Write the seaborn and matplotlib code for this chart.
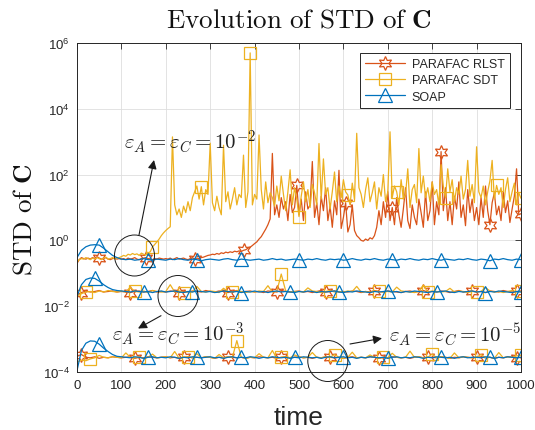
import numpy as np
import pandas as pd
import seaborn as sns
import matplotlib
matplotlib.use("Agg")
import matplotlib.pyplot as plt
from matplotlib.lines import Line2D
from matplotlib.patches import Ellipse
from matplotlib.ticker import NullLocator, FixedLocator

# ---------------- data ----------------
series_names = ["PARAFAC RLST", "PARAFAC SDT", "SOAP"]
x_ticks = [0, 100, 200, 300, 400, 500, 600, 700, 800, 900, 1000]
y_ticks = [1e-4, 1e-2, 1e0, 1e2, 1e4, 1e6]

t5 = np.arange(0, 1001, 5)     # time samples for the eps=1e-2 RLST / SDT curves
t10 = np.arange(0, 1001, 10)   # time samples for the other curves

# eps = 1e-2
rlst_2 = [0.2, 0.26, 0.3, 0.28, 0.27, 0.29, 0.27, 0.3, 0.28, 0.32, 0.29, 0.27, 0.28, 0.3, 0.27, 0.26, 0.28, 0.29, 0.27, 0.28,
          0.27, 0.28, 0.26, 0.29, 0.27, 0.28, 0.3, 0.27, 0.26, 0.28, 0.29, 0.3, 0.28, 0.27, 0.26, 0.28, 0.27, 0.29, 0.28, 0.27,
          0.28, 0.27, 0.29, 0.26, 0.28, 0.3, 0.27, 0.28, 0.29, 0.27, 0.26, 0.28, 0.3, 0.27, 0.29, 0.28, 0.3, 0.31, 0.33, 0.35,
          0.36, 0.38, 0.37, 0.4, 0.38, 0.42, 0.4, 0.44, 0.42, 0.45, 0.43, 0.47, 0.45, 0.48, 0.46, 0.5, 0.52, 0.58, 0.62, 0.7,
          0.8, 0.9, 1.1, 1.3, 1.7, 2.2, 3, 4.5, 440, 6, 12, 5, 20, 9, 15, 4, 25, 7, 10, 47,
          6, 18, 4, 30, 9, 12, 250, 5, 14, 3, 22, 8, 40, 4, 11, 2.5, 16, 6, 135, 2.3,
          5, 14, 1.8, 3, 12, 2, 1.4, 1.2, 1.0, 0.95, 1.1, 1.0, 1.2, 1.1, 1.4, 2.5, 8, 3, 15, 5,
          30, 4, 10, 3, 20, 6, 2.5, 9, 40, 4, 2.3, 12, 5, 3, 18, 7, 2.5, 30, 4, 8,
          60, 3, 15, 6, 500, 8, 40, 4, 15, 3, 22, 9, 60, 5, 12, 2.8, 35, 7, 18, 4,
          10, 3, 20, 5, 45, 8, 3, 14, 28, 6, 11, 4, 30, 7, 16, 3.5, 9, 22, 150, 6, 6.5]
sdt_2 = [0.22, 0.26, 0.28, 0.27, 0.3, 0.28, 0.26, 0.29, 0.27, 0.3, 0.28, 0.26, 0.29, 0.31, 0.27, 0.28, 0.3, 0.27, 0.29, 0.3,
         0.32, 0.35, 0.33, 0.38, 0.36, 0.4, 0.37, 0.39, 0.35, 0.41, 0.38, 0.36, 0.42, 0.45, 0.63, 0.75, 0.9, 1.1, 1.4, 1.7,
         2.0, 2.3, 2.6, 1400, 12, 6, 9, 5, 11, 7, 15, 8, 20, 30, 45, 18, 43, 12, 35, 25,
         900, 14, 8, 22, 10, 6, 780, 15, 30, 9, 18, 40, 12, 25, 20, 390, 10, 30, 5e5, 12,
         25, 18, 1600, 35, 9, 60, 14, 28, 20, 11, 45, 16, 90, 25, 8, 30, 140, 12, 40, 18,
         5.3, 22, 60, 15, 35, 10, 50, 28, 12, 880, 18, 300, 25, 40, 9, 30, 120, 15, 45, 20,
         70, 30, 24, 12, 55, 18, 1800, 40, 25, 10, 35, 80, 15, 28, 60, 9, 40, 22, 100, 15,
         30, 2000, 20, 45, 30, 12, 70, 18, 25, 150, 10, 35, 50, 14, 620, 28, 90, 20, 40, 15,
         60, 25, 35, 12, 200, 45, 20, 150, 30, 70, 15, 40, 25, 90, 18, 35, 270, 22, 50, 14,
         700, 30, 20, 45, 12, 30, 65, 270, 18, 47, 25, 40, 10, 35, 80, 15, 30, 55, 12, 28, 19]
soap_2 = [0.3, 0.5, 0.64, 0.72, 0.74, 0.72, 0.58, 0.45, 0.35, 0.3,
          0.27, 0.26, 0.27, 0.25, 0.26, 0.28, 0.26, 0.25, 0.27, 0.26,
          0.25, 0.27, 0.26, 0.28, 0.26, 0.25, 0.27, 0.26, 0.24, 0.26,
          0.27, 0.26, 0.25, 0.27, 0.28, 0.26, 0.25, 0.27, 0.26, 0.25,
          0.26, 0.27, 0.25, 0.26, 0.28, 0.26, 0.27, 0.25, 0.26, 0.27,
          0.26, 0.25, 0.27, 0.26, 0.28, 0.26, 0.25, 0.27, 0.26, 0.27,
          0.25, 0.26, 0.28, 0.26, 0.25, 0.27, 0.26, 0.28, 0.26, 0.25,
          0.27, 0.26, 0.25, 0.27, 0.26, 0.28, 0.26, 0.25, 0.27, 0.26,
          0.28, 0.26, 0.25, 0.27, 0.26, 0.25, 0.27, 0.26, 0.28, 0.26,
          0.25, 0.27, 0.26, 0.24, 0.27, 0.26, 0.28, 0.26, 0.25, 0.27, 0.26]

# eps = 1e-3  (values in units of 1e-3)
rlst_3_e3 = [22, 26, 29, 27, 28, 30, 27, 28, 29, 27,
             28, 27, 26, 28, 29, 27, 28, 30, 27, 28,
             27, 29, 28, 26, 28, 27, 29, 28, 27, 30,
             28, 27, 29, 28, 26, 28, 30, 27, 28, 29,
             27, 28, 26, 29, 28, 27, 30, 28, 27, 28,
             29, 27, 28, 26, 28, 30, 27, 28, 29, 27,
             28, 27, 29, 28, 26, 28, 27, 30, 28, 27,
             29, 28, 27, 26, 28, 29, 27, 28, 30, 27,
             28, 27, 29, 28, 26, 28, 30, 27, 28, 29,
             27, 28, 26, 29, 28, 27, 30, 28, 27, 28, 29]
sdt_3_e3 = [20, 24, 27, 28, 26, 29, 27, 30, 28, 27,
            29, 27, 38, 28, 27, 29, 26, 30, 28, 27,
            28, 45, 27, 29, 26, 28, 27, 40, 28, 27,
            29, 28, 26, 35, 28, 27, 29, 28, 26, 28,
            27, 29, 28, 42, 27, 28, 95, 29, 27, 28,
            28, 27, 36, 29, 28, 26, 28, 30, 27, 28,
            27, 29, 28, 40, 27, 28, 26, 29, 28, 27,
            28, 27, 38, 29, 28, 27, 26, 28, 44, 27,
            29, 28, 27, 28, 35, 27, 29, 28, 26, 28,
            27, 28, 37, 29, 27, 28, 26, 28, 30, 27, 28]
soap_3_e3 = [20, 45, 65, 72, 70, 58, 45, 37, 32, 30,
             29, 28, 27, 29, 28, 27, 28, 26, 28, 29,
             27, 28, 29, 27, 26, 28, 27, 29, 28, 27,
             28, 26, 27, 29, 28, 27, 28, 26, 28, 27,
             29, 27, 28, 26, 28, 29, 27, 28, 27, 26,
             28, 27, 29, 28, 26, 28, 27, 28, 29, 27,
             26, 28, 27, 29, 28, 27, 26, 28, 27, 28,
             29, 27, 28, 26, 28, 27, 29, 28, 27, 26,
             28, 27, 28, 29, 27, 26, 28, 27, 28, 29,
             27, 28, 26, 28, 27, 29, 28, 27, 26, 28, 27]

# eps = 1e-5  (values in units of 1e-4)
rlst_5_e4 = [3.0, 3.4, 2.8, 2.7, 2.9, 2.6, 2.8, 2.7, 2.9, 2.8,
             2.7, 2.8, 2.9, 2.6, 2.8, 2.7, 2.9, 2.8, 2.7, 2.8,
             2.9, 2.7, 2.8, 2.6, 2.8, 2.9, 2.7, 2.8, 2.7, 2.9,
             2.8, 2.6, 2.8, 2.7, 2.9, 2.8, 2.7, 2.8, 2.6, 2.8,
             2.7, 2.9, 2.8, 2.7, 2.8, 2.6, 2.8, 2.9, 2.7, 2.8,
             2.9, 2.7, 2.8, 2.6, 2.8, 2.7, 2.9, 2.8, 2.7, 2.8,
             2.6, 2.8, 2.9, 2.7, 2.8, 2.7, 2.9, 2.8, 2.6, 2.8,
             2.7, 2.9, 2.8, 2.7, 2.8, 2.6, 2.8, 2.9, 2.7, 2.8,
             2.8, 2.7, 2.9, 2.8, 2.6, 2.8, 2.7, 2.9, 2.8, 2.7,
             2.8, 2.9, 2.7, 2.8, 2.6, 2.8, 2.7, 2.9, 2.8, 2.7, 2.8]
sdt_5_e4 = [2.0, 2.3, 2.2, 2.5, 2.7, 3.2, 2.8, 2.7, 2.9, 2.8,
            2.7, 3.8, 2.8, 2.7, 2.9, 2.6, 2.8, 3.5, 2.7, 2.8,
            2.9, 2.7, 4.2, 2.6, 2.8, 2.9, 2.7, 3.6, 2.7, 2.9,
            2.8, 2.6, 3.4, 2.7, 2.9, 2.8, 9.0, 2.8, 2.6, 2.8,
            2.7, 3.6, 2.8, 2.7, 4.5, 2.6, 2.8, 2.9, 2.7, 3.3,
            2.9, 2.7, 2.8, 3.9, 2.8, 2.7, 2.9, 2.8, 3.4, 2.8,
            2.6, 2.8, 4.0, 2.7, 2.8, 2.7, 3.3, 2.8, 2.6, 2.8,
            2.7, 3.7, 2.8, 2.7, 2.8, 4.3, 2.8, 2.9, 2.7, 2.8,
            3.5, 2.7, 2.9, 2.8, 2.6, 3.8, 2.7, 2.9, 2.8, 2.7,
            2.8, 3.4, 2.7, 2.8, 2.6, 3.9, 2.7, 2.9, 2.8, 3.1, 3.2]
soap_5_e4 = [1.1, 4.5, 7.5, 8.8, 8.6, 7.0, 5.3, 4.2, 3.4, 3.0,
             2.9, 2.8, 2.7, 2.9, 2.8, 2.6, 2.8, 2.9, 2.7, 2.8,
             2.7, 2.9, 2.8, 2.6, 2.8, 2.7, 2.9, 2.8, 2.7, 2.8,
             2.9, 2.7, 2.8, 2.6, 2.8, 2.9, 2.7, 2.8, 2.7, 2.9,
             2.8, 2.6, 2.8, 2.7, 2.9, 2.8, 2.7, 2.8, 2.6, 2.8,
             2.7, 2.9, 2.8, 2.7, 2.8, 2.6, 2.8, 2.9, 2.7, 2.8,
             2.9, 2.7, 2.8, 2.6, 2.8, 2.7, 2.9, 2.8, 2.7, 2.8,
             2.6, 2.8, 2.9, 2.7, 2.8, 2.7, 2.9, 2.8, 2.6, 2.8,
             2.7, 2.9, 2.8, 2.7, 2.8, 2.6, 2.8, 2.9, 2.7, 2.8,
             2.8, 2.7, 2.9, 2.8, 2.6, 2.8, 2.7, 2.9, 2.8, 2.7, 2.8]

# times where the markers sit
mk_rlst_2 = [50, 155, 265, 375, 495, 605, 710, 820, 930, 1000]
mk_sdt_2 = [170, 280, 390, 500, 610, 720, 830, 945, 1000]
mk_soap_2 = [50, 160, 270, 370, 500, 600, 710, 820, 930, 1000]
mk_rlst_3 = [10, 120, 230, 340, 450, 560, 670, 780, 890, 990]
mk_sdt_3 = [20, 130, 240, 350, 460, 570, 680, 790, 900, 1000]
mk_soap_3 = [40, 150, 260, 370, 480, 590, 700, 810, 920, 1000]
mk_rlst_5 = [10, 130, 240, 340, 460, 570, 680, 790, 900, 990]
mk_sdt_5 = [30, 140, 250, 360, 460, 580, 690, 800, 910, 1000]
mk_soap_5 = [50, 160, 270, 370, 490, 600, 700, 820, 930, 1000]

# ---------------- style ----------------
sns.set_theme(style="white")
plt.rcParams["font.family"] = ["Liberation Sans", "DejaVu Sans"]
plt.rcParams["mathtext.fontset"] = "cm"
plt.rcParams["axes.unicode_minus"] = True

C_BLUE = "#0072BD"
C_ORANGE = "#D95319"
C_YELLOW = "#EDB120"
STAR = (6, 1, 0)
style = {
    "PARAFAC RLST": dict(color=C_ORANGE, marker=STAR, ms=10),
    "PARAFAC SDT": dict(color=C_YELLOW, marker="s", ms=8.5),
    "SOAP": dict(color=C_BLUE, marker="^", ms=10),
}

W, H = 535, 431
fig = plt.figure(figsize=(W / 100, H / 100), dpi=100)
ax = fig.add_axes([77 / W, 1 - 373 / H, 444 / W, 329 / H])
ax.set_yscale("log")


def fp(x, y):
    return (x / W, 1 - y / H)


def draw(t, vals, name, marks):
    st = style[name]
    step = t[1] - t[0]
    idx = [int(round(m / step)) for m in marks]
    df = pd.DataFrame({"time": t, "v": np.asarray(vals, dtype=float)})
    sns.lineplot(data=df, x="time", y="v", ax=ax, estimator=None, sort=False,
                 color=st["color"], lw=0.9, marker=st["marker"], markevery=idx,
                 markersize=st["ms"], markerfacecolor="none",
                 markeredgecolor=st["color"], markeredgewidth=0.9, legend=False)


levels = [
    (t5, rlst_2, t5, sdt_2, t10, soap_2, 1.0, mk_rlst_2, mk_sdt_2, mk_soap_2),
    (t10, rlst_3_e3, t10, sdt_3_e3, t10, soap_3_e3, 1e-3, mk_rlst_3, mk_sdt_3, mk_soap_3),
    (t10, rlst_5_e4, t10, sdt_5_e4, t10, soap_5_e4, 1e-4, mk_rlst_5, mk_sdt_5, mk_soap_5),
]
for tr, r, ts, s, tq, q, unit, mr, ms_, mq in levels:
    draw(tr, np.asarray(r) * unit, "PARAFAC RLST", mr)
    draw(ts, np.asarray(s) * unit, "PARAFAC SDT", ms_)
    draw(tq, np.asarray(q) * unit, "SOAP", mq)

# ---------------- axes ----------------
ax.set_xlim(0, 1000)
ax.set_ylim(1e-4, 1e6)
ax.xaxis.set_major_locator(FixedLocator(x_ticks))
ax.yaxis.set_major_locator(FixedLocator(y_ticks))
ax.yaxis.set_minor_locator(NullLocator())
ax.set_xlabel("")
ax.set_ylabel("")
ax.grid(True, which="major", color="#dedede", lw=0.6)
ax.set_axisbelow(True)
ax.tick_params(direction="in", top=True, right=True, length=4, width=0.6,
               colors="#262626", labelsize=9.5, pad=5)
for sp in ax.spines.values():
    sp.set_color("#262626")
    sp.set_linewidth(0.7)

# ---------------- legend ----------------
handles = [Line2D([], [], color=style[n]["color"], lw=0.9, marker=style[n]["marker"],
                  markersize=style[n]["ms"], markerfacecolor="none",
                  markeredgecolor=style[n]["color"], markeredgewidth=0.9)
           for n in series_names]
leg = ax.legend(handles, series_names, loc="upper right",
                bbox_to_anchor=fp(509.5, 54), bbox_transform=fig.transFigure,
                borderaxespad=0, fancybox=False, framealpha=1, edgecolor="#262626",
                fontsize=9, handlelength=3.2, handletextpad=0.5, labelspacing=0.35,
                borderpad=0.4)
leg.get_frame().set_linewidth(0.7)

# ---------------- text ----------------
fig.text(*fp(299, 20.5), r"$\mathrm{Evolution\ of\ STD\ of\ }\mathbf{C}$",
         ha="center", va="center", fontsize=19.5, color="#111111")
fig.text(*fp(25, 220), r"$\mathrm{STD\ of\ }\mathbf{C}$", rotation=90,
         ha="center", va="center", fontsize=19.5, color="#111111")
fig.text(*fp(299, 418), "time", ha="center", va="center", fontsize=19, color="#262626")

eps_kw = dict(ha="center", va="center", fontsize=15, color="#222222")
fig.text(*fp(190.5, 142.5), r"$\varepsilon_A=\varepsilon_C=10^{-2}$", **eps_kw)
fig.text(*fp(178.5, 333.7), r"$\varepsilon_A=\varepsilon_C=10^{-3}$", **eps_kw)
fig.text(*fp(455, 335), r"$\varepsilon_A=\varepsilon_C=10^{-5}$", **eps_kw)

for cx, cy in [(134.5, 256.5), (178, 297), (327.8, 362)]:
    fig.add_artist(Ellipse(fp(cx, cy), 40 / W, 41 / H, transform=fig.transFigure,
                           fill=False, ec="k", lw=0.7))

arrow_kw = dict(arrowstyle="-|>", color="k", lw=0.8, shrinkA=0, shrinkB=0, mutation_scale=13)
for tail, head in [((139, 236), (154, 161)), ((161, 316.7), (138, 329.5)), ((350, 345), (382, 339.3))]:
    ax.annotate("", xy=fp(*head), xycoords="figure fraction",
                xytext=fp(*tail), textcoords="figure fraction", arrowprops=arrow_kw,
                annotation_clip=False)

fig.savefig("out.png", dpi=100)
